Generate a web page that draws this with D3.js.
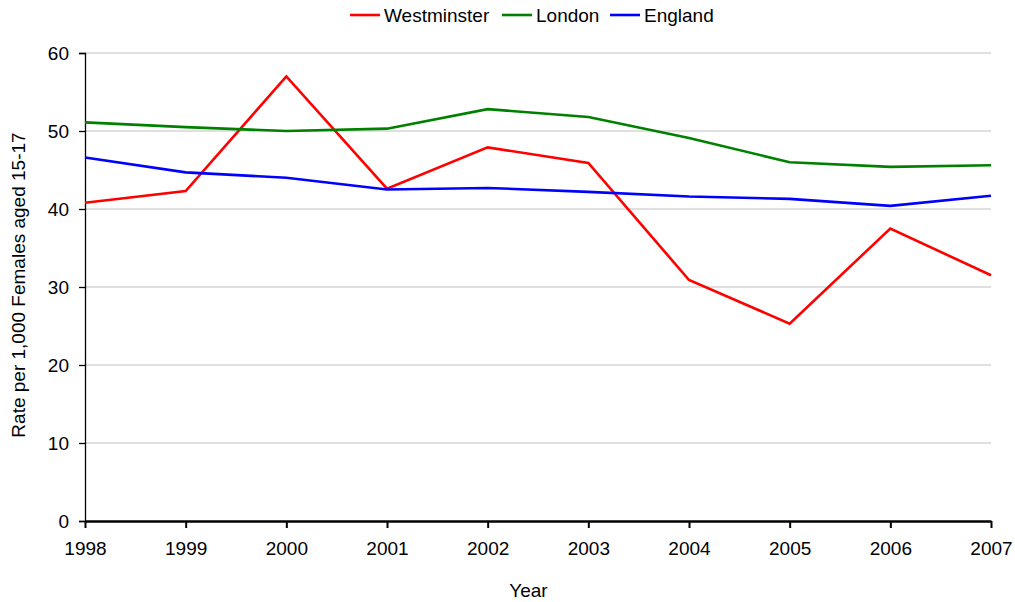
<!DOCTYPE html>
<html>
<head>
<meta charset="utf-8">
<script src="https://cdn.jsdelivr.net/npm/d3@7"></script>
<style>
  body { margin: 0; background: #fff; }
  svg { display: block; font-family: "Liberation Sans", Arial, sans-serif; }
</style>
</head>
<body>
<svg id="chart" width="1015" height="602"></svg>
<script>
// Under-18 conception rates per 1,000 females aged 15-17
const years = [1998, 1999, 2000, 2001, 2002, 2003, 2004, 2005, 2006, 2007];
const westminster = [40.8, 42.3, 57.0, 42.6, 47.9, 45.9, 30.9, 25.3, 37.5, 31.5];
const london = [51.1, 50.5, 50.0, 50.3, 52.8, 51.8, 49.1, 46.0, 45.4, 45.6];
const england = [46.6, 44.7, 44.0, 42.5, 42.7, 42.2, 41.6, 41.3, 40.4, 41.7];
const yTicks = [0, 10, 20, 30, 40, 50, 60];

const seriesNames = ["Westminster", "London", "England"];
const seriesColors = ["#ff0000", "#008000", "#0000ff"];
const seriesValues = [westminster, london, england];

const FONT = "Liberation Sans, Arial, sans-serif";
const FS = 19;

const svg = d3.select("#chart");
const margin = { left: 85, right: 24, top: 53, bottom: 81 };
const W = 1015, H = 602;

const x = d3.scalePoint().domain(years).range([margin.left, W - margin.right]);
const y = d3.scaleLinear().domain([0, 60]).range([H - margin.bottom, margin.top]);

// horizontal gridlines
svg.append("g")
  .selectAll("line")
  .data(yTicks.filter(d => d > 0))
  .join("line")
  .attr("x1", margin.left).attr("x2", W - margin.right)
  .attr("y1", d => y(d)).attr("y2", d => y(d))
  .attr("stroke", "#c0c0c0").attr("stroke-width", 1);

// y axis
const yAxis = svg.append("g")
  .attr("transform", `translate(${margin.left},0)`)
  .call(d3.axisLeft(y).tickValues(yTicks).tickSize(6).tickPadding(10).tickFormat(d3.format("d")));
yAxis.select(".domain").attr("stroke", "#000").attr("stroke-width", 1.3);
yAxis.selectAll(".tick line").attr("stroke", "#000").attr("stroke-width", 1.3);
yAxis.selectAll(".tick text").attr("font-size", FS).attr("fill", "#000")
  .attr("font-family", FONT);

// x axis
const xAxis = svg.append("g")
  .attr("transform", `translate(0,${y(0)})`)
  .call(d3.axisBottom(x).tickSize(7).tickSizeOuter(0).tickPadding(14));
xAxis.select(".domain").attr("stroke", "#000").attr("stroke-width", 2.4);
xAxis.selectAll(".tick line").attr("stroke", "#000").attr("stroke-width", 2);
xAxis.selectAll(".tick text").attr("font-size", FS).attr("fill", "#000")
  .attr("font-family", FONT);

// series lines
const line = d3.line().x((d, i) => x(years[i])).y(d => y(d));
svg.append("g")
  .selectAll("path")
  .data(seriesValues)
  .join("path")
  .attr("d", d => line(d))
  .attr("fill", "none")
  .attr("stroke", (d, i) => seriesColors[i])
  .attr("stroke-width", 2.6)
  .attr("stroke-linejoin", "miter");

// axis titles
svg.append("text")
  .attr("x", 528.5)
  .attr("y", 597)
  .attr("text-anchor", "middle")
  .attr("font-size", FS)
  .attr("font-family", FONT)
  .text("Year");

svg.append("text")
  .attr("transform", `translate(25,${(margin.top + H - margin.bottom) / 2 - 2}) rotate(-90)`)
  .attr("text-anchor", "middle")
  .attr("font-size", FS)
  .attr("font-family", FONT)
  .text("Rate per 1,000 Females aged 15-17");

// legend
const legendX = [350, 502, 610];
const legend = svg.append("g")
  .selectAll("g")
  .data(seriesNames)
  .join("g")
  .attr("transform", (d, i) => `translate(${legendX[i]},15)`);
legend.append("line")
  .attr("x1", 0).attr("x2", 30).attr("y1", 0).attr("y2", 0)
  .attr("stroke", (d, i) => seriesColors[i]).attr("stroke-width", 2.6);
legend.append("text")
  .attr("x", 34).attr("y", 7)
  .attr("font-size", FS)
  .attr("font-family", FONT)
  .text(d => d);
</script>
</body>
</html>
